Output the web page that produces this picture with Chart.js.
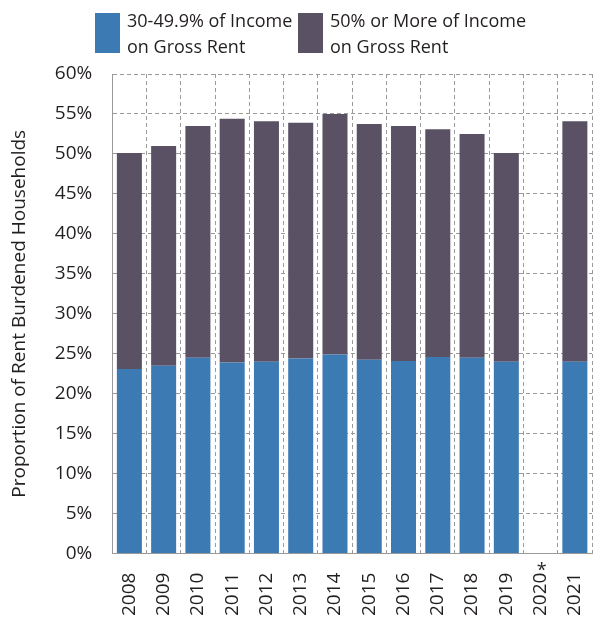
<!DOCTYPE html>
<html>
<head>
<meta charset="utf-8">
<script src="https://cdn.jsdelivr.net/npm/chart.js@4"></script>
<style>
    body { margin: 0; background: #fff; font-family: "Open Sans", sans-serif; }
    #wrap { position: relative; width: 603px; height: 617px; overflow: hidden; }
    .legend-item { position: absolute; top: 13px; display: flex; }
    .swatch { width: 25px; height: 40px; margin-right: 7px; }
    .legend-text { font-size: 18px; line-height: 26px; color: #231f20; margin-top: -6px; }
</style>
</head>
<body>
<div id="wrap">
    <canvas id="chart" width="603" height="617"></canvas>
    <div class="legend-item" style="left:95px"><div class="swatch" style="background:#3c7ab4"></div><div class="legend-text">30-49.9% of Income<br>on Gross Rent</div></div>
    <div class="legend-item" style="left:298px"><div class="swatch" style="background:#5a5264"></div><div class="legend-text">50% or More of Income<br>on Gross Rent</div></div>
</div>
<script>
const years = ['2008', '2009', '2010', '2011', '2012', '2013', '2014', '2015', '2016', '2017', '2018', '2019', '2020', '2021'];
const footnoteYear = '2020'; // marked with an asterisk
const share30to49 = [23.1, 23.5, 24.5, 23.9, 24.0, 24.4, 24.9, 24.25, 24.1, 24.6, 24.5, 24.0, null, 24.0];
const share50plus = [27.0, 27.5, 29.0, 30.5, 30.1, 29.5, 30.1, 29.5, 29.4, 28.5, 28.0, 26.1, null, 30.1];

const gridStyle = { color: '#9a9a9a', lineWidth: 1, drawTicks: false };
const borderStyle = { dash: [4, 3], color: '#9a9a9a' };
const tickFont = { family: 'Open Sans', size: 19 };

// small asterisk drawn after the 2020 label
const asteriskPlugin = {
    id: 'asterisk',
    afterDraw(chart) {
        const x = chart.scales.x;
        const i = years.indexOf(footnoteYear);
        const px = x.getPixelForValue(i);
        const c = chart.ctx;
        c.save();
        c.fillStyle = '#231f20';
        c.font = '18px "Open Sans"';
        c.textAlign = 'center';
        c.textBaseline = 'middle';
        c.fillText('*', px + 1, x.top + 17);
        c.restore();
    }
};

const ctx = document.getElementById('chart').getContext('2d');
new Chart(ctx, {
    type: 'bar',
    data: {
        labels: years,
        datasets: [
            { label: '30-49.9% of Income on Gross Rent', data: share30to49, backgroundColor: '#3c7ab4' },
            { label: '50% or More of Income on Gross Rent', data: share50plus, backgroundColor: '#5a5264' }
        ]
    },
    options: {
        responsive: false,
        animation: false,
        layout: { padding: { top: 74, right: 11, left: 4, bottom: -18 } },
        datasets: { bar: { categoryPercentage: 1, barPercentage: 0.73 } },
        plugins: { legend: { display: false }, tooltip: { enabled: false } },
        scales: {
            x: {
                stacked: true,
                grid: gridStyle,
                border: borderStyle,
                afterFit(scale) { scale.paddingLeft = 0; scale.paddingRight = 0; },
                ticks: {
                    color: '#231f20', font: tickFont, maxRotation: 90, minRotation: 90,
                    padding: (c) => (years[c.index] === footnoteYear ? 30 : 19)
                }
            },
            y: {
                stacked: true,
                min: 0,
                max: 60,
                grid: gridStyle,
                border: borderStyle,
                ticks: {
                    stepSize: 5,
                    color: '#231f20',
                    padding: 20,
                    font: tickFont,
                    callback: v => v + '%'
                },
                title: { display: true, text: 'Proportion of Rent Burdened Households', color: '#231f20', font: { family: 'Open Sans', size: 19 } }
            }
        }
    },
    plugins: [asteriskPlugin]
});
</script>
</body>
</html>
